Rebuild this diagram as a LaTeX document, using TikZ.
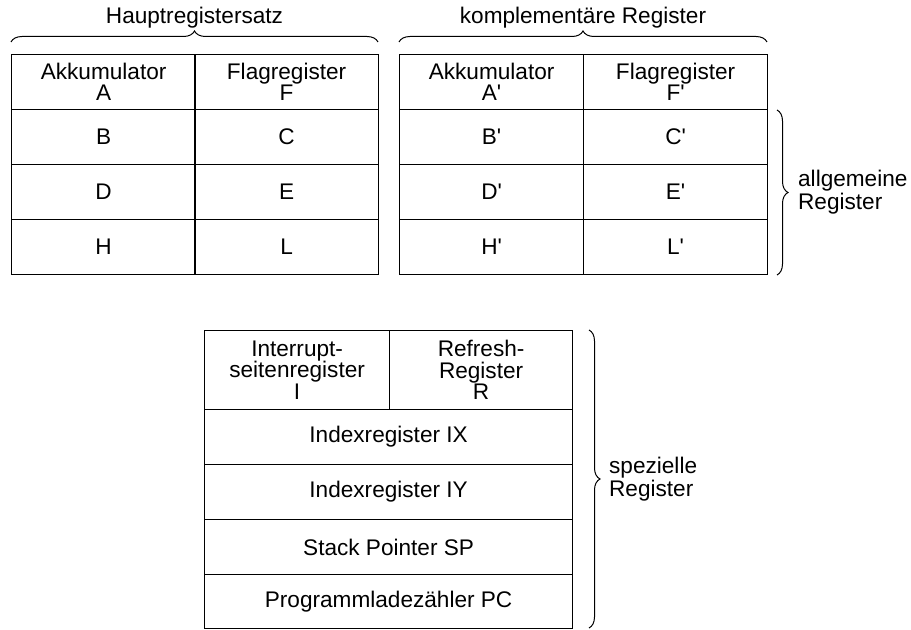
\documentclass[tikz,border=0pt]{standalone}
\usepackage{fontspec}
\setmainfont{Liberation Sans}
\usetikzlibrary{decorations.pathreplacing}

\tikzset{
  cell/.style={draw, line width=0.6pt, inner sep=0pt, anchor=north west, align=center,
    minimum width=92pt, minimum height=27.5pt},
  widecell/.style={cell, minimum width=184pt},
  klammer/.style={decorate, decoration={brace, amplitude=5.5pt}, line width=0.5pt},
}
\newcommand{\strich}{\textquotesingle}

\begin{document}
\begin{tikzpicture}[x=0.5pt, y=-0.5pt, font=\fontsize{11.3}{10.3}\selectfont]
		\useasboundingbox (0,0) rectangle (911,630);

		% Hauptregistersatz
		\node[cell] (ha) at (11,54) {Akkumulator\\A};
		\node[cell] (hf) at (194,54) {Flagregister\\F};
		% komplementaere Register
		\node[cell] (ka) at (399,54) {Akkumulator\\A\strich};
		\node[cell] (kf) at (583,54) {Flagregister\\F\strich};

		\foreach \y/\a/\b in {109/B/C, 164/D/E, 219/H/L} {
			\node[cell] (h\a) at (11,\y) {\a};
			\node[cell] (h\b) at (194,\y) {\b};
			\node[cell] (k\a) at (399,\y) {\a\strich};
			\node[cell] (k\b) at (583,\y) {\b\strich};
		}

		\draw[klammer] (11,42) -- node[above=3.5pt] (haupt) {Hauptregistersatz} (378,42);
		\draw[klammer] (399,42) -- node[above=3.5pt] (kompl) {komplementäre Register} (767,42);
		\draw[klammer] (777,110) -- node[right=7pt, align=left] (allg) {allgemeine\\Register} (777,275);

		% spezielle Register
		\node[cell, minimum width=92.5pt, minimum height=39.5pt, font=\fontsize{11.3}{10.8}\selectfont]
			(int) at (204,330) {Interrupt-\\seitenregister\\I};
		\node[cell, minimum width=91.5pt, minimum height=39.5pt, font=\fontsize{11.3}{10.8}\selectfont]
			(ref) at (389,330) {Refresh-\\Register\\R};
		\node[widecell] (ix) at (204,409) {Indexregister IX};
		\node[widecell] (iy) at (204,464) {Indexregister IY};
		\node[widecell] (sp) at (204,519) {Stack Pointer SP};
		\node[widecell, minimum height=27pt] (pc) at (204,574) {Programmladezähler PC};

		\draw[klammer] (589,330) -- node[right=6.5pt, align=left] (spez) {spezielle\\Register} (589,628);
	\end{tikzpicture}
\end{document}
